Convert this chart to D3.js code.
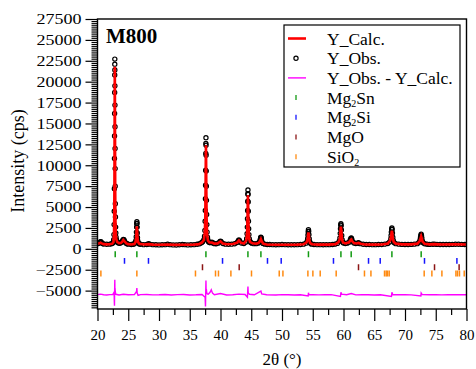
<!DOCTYPE html>
<html>
<head>
<meta charset="utf-8">
<title>M800 XRD refinement</title>
<script src="https://cdn.jsdelivr.net/npm/d3@7"></script>
<style>
  body { margin: 0; background: #fff; }
  svg { display: block; font-family: "Liberation Serif", "Times New Roman", serif; }
</style>
</head>
<body>
<svg id="chart" width="476" height="369"></svg>
<script>
const yObs = [
  [20.0, 620], [20.2, 680], [20.4, 790], [20.5, 860], [20.6, 820], [20.8, 640], [21.0, 580], [21.5, 540], [22.0, 560], [22.3, 620], [22.5, 700],
  [22.58, 820], [22.63, 1100], [22.67, 1700], [22.70, 2900], [22.72, 4500], [22.74, 7200], [22.76, 10800], [22.77, 13500], [22.78, 16200],
  [22.79, 18700], [22.80, 20800], [22.81, 22100], [22.815, 22700], [22.82, 21400], [22.83, 19500], [22.84, 17200], [22.85, 14600],
  [22.86, 12000], [22.87, 9600], [22.88, 7500], [22.90, 5400], [22.92, 3800], [22.95, 2600], [22.98, 1900], [23.02, 1400], [23.08, 1100],
  [23.15, 900], [23.25, 780], [23.4, 700], [23.6, 660], [23.8, 720],
  [24.0, 850], [24.1, 1000], [24.2, 1120], [24.3, 1080], [24.4, 900], [24.6, 700], [24.8, 600], [25.0, 560], [25.5, 520], [25.8, 540], [26.0, 600], [26.15, 780],
  [26.25, 1000], [26.30, 1450], [26.33, 2000], [26.36, 2600], [26.38, 3000], [26.40, 3250], [26.42, 3050], [26.44, 2600], [26.47, 1900],
  [26.50, 1350], [26.55, 950], [26.65, 700], [26.8, 580], [27.0, 540], [27.5, 500], [28.0, 520], [28.3, 600], [28.5, 560], [29.0, 500],
  [29.5, 480], [30.0, 470], [30.5, 480], [31.0, 500], [31.4, 560], [31.8, 500], [32.3, 470], [32.8, 460], [33.3, 480], [33.8, 520],
  [34.2, 500], [34.7, 470], [35.2, 480], [35.7, 500], [36.2, 540], [36.6, 600], [36.9, 720], [37.1, 850], [37.3, 1100],
  [37.40, 1500], [37.46, 2200], [37.50, 3300], [37.53, 4600], [37.55, 6000], [37.57, 7600], [37.59, 9400], [37.61, 11400], [37.62, 12600],
  [37.635, 13300], [37.65, 12400], [37.66, 11200], [37.68, 9300], [37.70, 7500], [37.72, 5800], [37.75, 4100], [37.78, 2900], [37.82, 2000],
  [37.88, 1400], [37.95, 1050], [38.05, 850], [38.2, 760], [38.4, 740], [38.6, 780], [38.8, 700], [39.0, 620], [39.3, 600], [39.6, 680],
  [39.9, 860], [40.0, 920], [40.1, 860], [40.4, 640], [40.8, 560], [41.3, 540], [41.8, 560], [42.3, 600], [42.7, 760], [42.9, 980],
  [43.0, 1060], [43.1, 960], [43.4, 700], [43.8, 640], [44.1, 800], [44.25, 1200],
  [44.32, 1800], [44.36, 2600], [44.39, 3600], [44.41, 4600], [44.43, 5700], [44.45, 6600], [44.465, 7050], [44.48, 6500], [44.50, 5600],
  [44.52, 4500], [44.55, 3300], [44.58, 2400], [44.62, 1700], [44.68, 1200], [44.78, 900], [44.9, 760], [45.1, 680], [45.4, 620],
  [45.8, 620], [46.1, 680], [46.3, 800],
  [46.42, 950], [46.48, 1150], [46.53, 1320], [46.57, 1400], [46.61, 1300], [46.66, 1100], [46.74, 850], [46.9, 650], [47.2, 560],
  [47.6, 520], [48.0, 510], [48.5, 500], [49.0, 490], [49.5, 500], [50.0, 510], [50.5, 500], [51.0, 490], [51.5, 480], [52.0, 490],
  [52.5, 500], [53.0, 520], [53.5, 560], [53.9, 680], [54.1, 900],
  [54.18, 1250], [54.22, 1650], [54.26, 2050], [54.30, 2300], [54.34, 2100], [54.38, 1700], [54.43, 1200], [54.50, 850], [54.6, 660],
  [54.8, 560], [55.2, 520], [55.7, 500], [56.2, 500], [56.7, 490], [57.2, 500], [57.7, 500], [58.2, 520], [58.6, 560], [59.0, 650], [59.3, 900],
  [59.42, 1300], [59.47, 1850], [59.51, 2400], [59.55, 2850], [59.58, 3000], [59.62, 2750], [59.66, 2250], [59.71, 1600], [59.78, 1100],
  [59.88, 800], [60.0, 700], [60.3, 640], [60.6, 680], [60.9, 800], [61.1, 1050], [61.2, 1250], [61.27, 1300], [61.35, 1150], [61.5, 860],
  [61.7, 700], [62.0, 640], [62.3, 680], [62.45, 720], [62.7, 620], [63.2, 540], [63.7, 520], [64.2, 510], [64.7, 500], [65.2, 500],
  [65.7, 510], [66.2, 520], [66.7, 560], [67.2, 640], [67.5, 820], [67.7, 1200],
  [67.74, 1600], [67.78, 2000], [67.83, 2350], [67.87, 2500], [67.91, 2300], [67.96, 1900], [68.02, 1400], [68.1, 1000], [68.25, 740],
  [68.5, 620], [69.0, 560], [69.5, 530], [70.0, 520], [70.5, 520], [71.0, 530], [71.5, 560], [72.0, 620], [72.3, 800], [72.45, 1050],
  [72.52, 1350], [72.58, 1600], [72.63, 1750], [72.68, 1600], [72.74, 1300], [72.82, 950], [72.95, 720], [73.2, 600], [73.6, 540],
  [74.0, 530], [74.5, 540], [74.8, 560], [75.2, 530], [75.7, 520], [76.2, 510], [76.7, 510], [77.2, 520], [77.7, 530], [78.2, 540],
  [78.7, 550], [79.2, 530], [79.7, 520], [80.0, 510]
];

// calculated profile
const yCalc = [
  [20.0, 600], [20.3, 660], [20.5, 740], [20.7, 650], [21.0, 560], [21.5, 530], [22.0, 550], [22.4, 620], [22.6, 820], [22.68, 1700],
  [22.72, 3600], [22.75, 7500], [22.78, 14500], [22.80, 19800], [22.815, 21800], [22.83, 19200], [22.85, 13800], [22.88, 7000],
  [22.92, 3400], [22.97, 1800], [23.05, 1150], [23.2, 820], [23.5, 680], [23.8, 700], [24.0, 820], [24.2, 1060], [24.4, 880],
  [24.7, 640], [25.0, 560], [25.5, 520], [26.0, 580], [26.2, 850], [26.3, 1400], [26.36, 2300], [26.40, 2700], [26.44, 2300],
  [26.50, 1300], [26.6, 800], [26.8, 600], [27.5, 510], [28.3, 560], [29.0, 500], [30.0, 480], [31.4, 520], [32.5, 470], [34.0, 480],
  [35.5, 490], [36.5, 560], [37.0, 760], [37.3, 1050], [37.45, 1900], [37.52, 3600], [37.57, 7000], [37.61, 11000], [37.635, 12400],
  [37.66, 10800], [37.70, 6800], [37.75, 3500], [37.82, 1800], [37.95, 1000], [38.2, 760], [38.6, 760], [39.0, 620], [39.5, 640],
  [40.0, 880], [40.4, 620], [41.0, 540], [42.0, 570], [42.7, 740], [43.0, 1000], [43.3, 740], [43.8, 640], [44.2, 1000], [44.33, 1900],
  [44.40, 3900], [44.44, 5800], [44.465, 6400], [44.49, 5600], [44.53, 3700], [44.58, 2100], [44.66, 1200], [44.8, 820], [45.2, 660],
  [45.8, 610], [46.2, 700], [46.45, 950], [46.57, 1150], [46.7, 900], [46.95, 620], [47.5, 520], [49.0, 490], [51.0, 490], [52.5, 500],
  [53.5, 550], [54.0, 780], [54.18, 1150], [54.25, 1750], [54.30, 1950], [54.35, 1750], [54.43, 1100], [54.55, 700], [54.9, 550],
  [56.0, 500], [57.5, 500], [58.7, 560], [59.2, 800], [59.42, 1200], [59.50, 2100], [59.58, 2650], [59.65, 2150], [59.74, 1200],
  [59.9, 780], [60.3, 640], [60.9, 780], [61.15, 1050], [61.27, 1120], [61.4, 920], [61.7, 680], [62.1, 640], [62.45, 700], [62.8, 600],
  [63.5, 520], [65.0, 500], [66.3, 520], [67.2, 630], [67.6, 1000], [67.76, 1600], [67.83, 2050], [67.87, 2150], [67.92, 1950],
  [68.0, 1350], [68.15, 850], [68.5, 620], [69.5, 530], [71.0, 530], [72.0, 620], [72.4, 920], [72.55, 1300], [72.63, 1500],
  [72.71, 1300], [72.85, 860], [73.2, 600], [74.0, 530], [74.8, 560], [76.0, 510], [78.0, 530], [80.0, 510]
];

// Y_Obs - Y_Calc, plotted shifted down
const yDiff = [
  [20.0, 20], [20.5, 80], [21.0, 0], [21.5, -30], [22.0, 20], [22.5, 40], [22.70, 300], [22.74, -900], [22.76, -1300], [22.78, 300],
  [22.80, 1200], [22.815, 1800], [22.83, 600], [22.85, 800], [22.88, 500], [22.93, 200], [23.0, 60], [23.5, -20], [24.2, 60],
  [25.0, 0], [26.0, 30], [26.35, 400], [26.40, 800], [26.45, 200], [26.6, -60], [27.0, 20], [28.0, 40], [29.0, -10], [30.0, 0],
  [31.0, 30], [32.0, -20], [33.0, 20], [34.0, 40], [35.0, -20], [36.0, 0], [37.0, 40], [37.50, -300], [37.56, -1400], [37.60, 400],
  [37.635, 1700], [37.66, 500], [37.70, 700], [37.75, 300], [37.85, 100], [38.0, 60], [38.3, 300], [38.5, 600], [38.7, 200],
  [39.0, 0], [40.0, 150], [41.0, -20], [42.0, 0], [43.0, 80], [44.0, 30], [44.38, -300], [44.42, 400], [44.465, 1000], [44.50, 300],
  [44.55, 200], [44.7, 60], [45.5, 0], [46.57, 450], [46.7, 100], [47.5, 0], [49.0, -20], [50.0, 20], [51.0, 0], [52.0, -20],
  [53.0, 10], [54.25, -150], [54.30, 250], [54.38, 0], [55.0, 20], [56.0, -10], [57.0, 0], [58.0, 20], [59.50, -200], [59.58, 300],
  [59.7, 80], [60.5, 0], [61.27, 150], [62.0, -10], [63.0, 20], [64.0, 0], [65.0, -20], [66.0, 10], [67.8, -200], [67.87, 300],
  [68.0, 40], [69.0, 0], [70.0, 20], [71.0, -10], [72.58, -150], [72.63, 220], [72.8, 30], [74.0, 0], [75.0, 20], [76.0, -10],
  [77.0, 10], [78.0, 0], [79.0, 20], [80.0, 0]
];
const DIFF_OFFSET = -5500;

// Bragg positions of each phase
const mg2snPos = [22.88, 26.40, 37.63, 44.46, 46.57, 54.30, 59.58, 61.25, 67.87, 72.63];
const mg2siPos = [24.39, 28.29, 40.33, 47.64, 49.87, 58.37, 64.07, 65.97, 73.17, 78.44];
const mgoPos = [37.07, 43.04, 62.44, 74.80, 78.80];
const sio2Pos = [20.55, 26.40, 35.93, 39.19, 39.67, 41.69, 45.04, 49.55, 50.15, 54.21, 55.02, 56.21, 58.81,
                 63.41, 64.46, 66.67, 66.94, 67.15, 67.43, 73.12, 74.37, 76.00, 78.28, 78.54, 78.86, 79.63];

const phases = [
  { name: ['Mg', '2', 'Sn'], pos: mg2snPos, level: -650, color: '#119a11' },
  { name: ['Mg', '2', 'Si'], pos: mg2siPos, level: -1450, color: '#1515ff' },
  { name: ['MgO', '', ''], pos: mgoPos, level: -2200, color: '#8b1515' },
  { name: ['SiO', '2', ''], pos: sio2Pos, level: -2950, color: '#ff8a10' }
];

const xTicks = d3.range(20, 81, 5);
const yTicks = d3.range(-5000, 27501, 2500);

const svg = d3.select('#chart');
const x = d3.scaleLinear().domain([20, 80]).range([97.5, 466.5]);
const y = d3.scaleLinear().domain([-7200, 27500]).range([309, 19]);

svg.append('clipPath').attr('id', 'plotclip')
  .append('rect')
  .attr('x', x.range()[0]).attr('y', y.range()[1])
  .attr('width', x.range()[1] - x.range()[0]).attr('height', y.range()[0] - y.range()[1]);

const plot = svg.append('g').attr('clip-path', 'url(#plotclip)');

// observed points
plot.append('g')
  .selectAll('circle')
  .data(yObs)
  .join('circle')
  .attr('cx', d => x(d[0]))
  .attr('cy', d => y(d[1]))
  .attr('r', 2.1)
  .attr('fill', 'none')
  .attr('stroke', '#000')
  .attr('stroke-width', 1.2);

// calc line
const line = d3.line().x(d => x(d[0])).y(d => y(d[1]));
plot.append('path')
  .datum(yCalc)
  .attr('d', line)
  .attr('fill', 'none')
  .attr('stroke', '#ff0000')
  .attr('stroke-width', 2.6);

// difference
plot.append('path')
  .datum(yDiff)
  .attr('d', d3.line().x(d => x(d[0])).y(d => y(d[1] + DIFF_OFFSET)))
  .attr('fill', 'none')
  .attr('stroke', '#ff00ff')
  .attr('stroke-width', 1.4);

// phase tick rows
phases.forEach(p => {
  plot.append('g')
    .selectAll('line')
    .data(p.pos)
    .join('line')
    .attr('x1', d => x(d)).attr('x2', d => x(d))
    .attr('y1', y(p.level + 350)).attr('y2', y(p.level - 350))
    .attr('stroke', p.color)
    .attr('stroke-width', 1.5);
});

// axes
const xAxis = svg.append('g')
  .attr('transform', `translate(0,${y.range()[0]})`)
  .call(d3.axisBottom(x).tickValues(xTicks).tickSize(12).tickPadding(8));
svg.append('g')
  .attr('transform', `translate(0,${y.range()[0]})`)
  .call(d3.axisBottom(x).tickValues(d3.range(22.5, 80, 5)).tickSize(6).tickFormat(''));

const yAxis = svg.append('g')
  .attr('transform', `translate(${x.range()[0]},0)`)
  .call(d3.axisLeft(y).tickValues(yTicks).tickSize(12).tickPadding(4).tickFormat(d3.format('d')));
svg.append('g')
  .attr('transform', `translate(${x.range()[0]},0)`)
  .call(d3.axisLeft(y).tickValues(d3.range(-7000, 27501, 250).filter(v => v % 2500 !== 0)).tickSize(6).tickFormat(''));

svg.selectAll('.domain').remove();
svg.selectAll('.tick line').attr('stroke', '#000').attr('stroke-width', 1.2);
xAxis.selectAll('text').attr('font-size', 15).attr('font-family', 'Liberation Serif, Times New Roman, serif').attr('fill', '#000');
yAxis.selectAll('text')
  .attr('font-size', 15).attr('font-family', 'Liberation Serif, Times New Roman, serif').attr('fill', '#000')
  .attr('x', -16 / 1.2)
  .attr('transform', 'scale(1.2,1)');

// frame
svg.append('rect')
  .attr('x', x.range()[0]).attr('y', y.range()[1])
  .attr('width', x.range()[1] - x.range()[0]).attr('height', y.range()[0] - y.range()[1])
  .attr('fill', 'none').attr('stroke', '#000').attr('stroke-width', 1.4);

// axis titles
svg.append('text')
  .attr('transform', 'translate(24,161) rotate(-90)')
  .attr('text-anchor', 'middle')
  .attr('font-size', 18)
  .text('Intensity (cps)');
svg.append('text')
  .attr('x', 282).attr('y', 365)
  .attr('text-anchor', 'middle')
  .attr('font-size', 17)
  .text('2θ (°)');

svg.append('text')
  .attr('x', 106).attr('y', 43)
  .attr('font-size', 21).attr('font-weight', 'bold')
  .text('M800');

// legend
const legend = svg.append('g');
legend.append('rect')
  .attr('x', 284).attr('y', 25).attr('width', 176).attr('height', 142)
  .attr('fill', '#fff').attr('stroke', '#000').attr('stroke-width', 1.2);

const legendRows = [
  { name: ['Y_Calc.', '', ''], kind: 'line', color: '#ff0000', w: 2.6 },
  { name: ['Y_Obs.', '', ''], kind: 'circle', color: '#000' },
  { name: ['Y_Obs. - Y_Calc.', '', ''], kind: 'line', color: '#ff00ff', w: 1.4 }
].concat(phases.map(p => ({ name: p.name, kind: 'tick', color: p.color })));

legendRows.forEach((r, i) => {
  const cy = 38.5 + i * 19.7;
  const g = legend.append('g');
  if (r.kind === 'line') {
    g.append('line').attr('x1', 288).attr('x2', 306).attr('y1', cy).attr('y2', cy)
      .attr('stroke', r.color).attr('stroke-width', r.w);
  } else if (r.kind === 'circle') {
    g.append('circle').attr('cx', 296).attr('cy', cy).attr('r', 2.1)
      .attr('fill', 'none').attr('stroke', '#000').attr('stroke-width', 1.2);
  } else {
    g.append('line').attr('x1', 296).attr('x2', 296).attr('y1', cy - 2.5).attr('y2', cy + 2.5)
      .attr('stroke', r.color).attr('stroke-width', 1.3);
  }
  const t = g.append('text').attr('x', 327).attr('y', cy + 6).attr('font-size', 17.5);
  t.append('tspan').text(r.name[0]);
  if (r.name[1]) {
    t.append('tspan').attr('font-size', 10).attr('dy', 3).text(r.name[1]);
    t.append('tspan').attr('dy', -3).text(r.name[2]);
  }
});
</script>
</body>
</html>
